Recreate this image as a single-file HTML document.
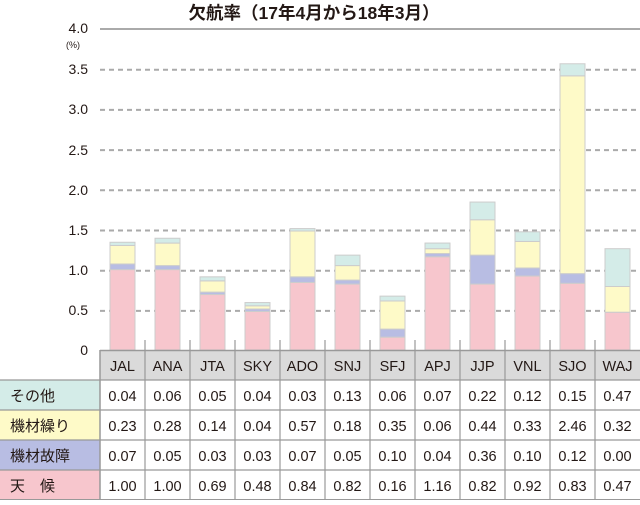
<!DOCTYPE html>
<html><head><meta charset="utf-8"><style>
body{margin:0;background:#fff;}
svg text{font-family:"Liberation Sans","Noto Sans CJK JP",sans-serif;fill:#231815;}
</style></head><body>
<svg width="640" height="500" viewBox="0 0 640 500" xmlns="http://www.w3.org/2000/svg">
<rect width="640" height="500" fill="#fff"/>
<text x="314" y="19" font-size="17.5" font-weight="bold" text-anchor="middle">欠航率（17年4月から18年3月）</text>
<g font-size="14" text-anchor="end">
<text x="88" y="33">4.0</text>
<text x="88" y="74">3.5</text>
<text x="88" y="114">3.0</text>
<text x="88" y="155">2.5</text>
<text x="88" y="195">2.0</text>
<text x="88" y="235">1.5</text>
<text x="88" y="275">1.0</text>
<text x="88" y="315">0.5</text>
<text x="88" y="355">0</text>
</g>
<text x="66" y="48" font-size="9">(%)</text>
<line x1="100" y1="29" x2="640" y2="29" stroke="#aaa" stroke-width="2"/>
<g stroke="#aaa" stroke-width="2" stroke-dasharray="5,4">
<line x1="100" y1="69.7" x2="640" y2="69.7"/>
<line x1="100" y1="109.9" x2="640" y2="109.9"/>
<line x1="100" y1="150.1" x2="640" y2="150.1"/>
<line x1="100" y1="190.3" x2="640" y2="190.3"/>
<line x1="100" y1="230.5" x2="640" y2="230.5"/>
<line x1="100" y1="270.7" x2="640" y2="270.7"/>
<line x1="100" y1="310.9" x2="640" y2="310.9"/>
</g>
<g id="bars" stroke="#ccc" stroke-width="1"></g>
<g id="tbl"></g>
<script>
var names=["JAL","ANA","JTA","SKY","ADO","SNJ","SFJ","APJ","JJP","VNL","SJO","WAJ"];
var oth=["0.04","0.06","0.05","0.04","0.03","0.13","0.06","0.07","0.22","0.12","0.15","0.47"];
var rep=["0.23","0.28","0.14","0.04","0.57","0.18","0.35","0.06","0.44","0.33","2.46","0.32"];
var brk=["0.07","0.05","0.03","0.03","0.07","0.05","0.10","0.04","0.36","0.10","0.12","0.00"];
var wea=["1.00","1.00","0.69","0.48","0.84","0.82","0.16","1.16","0.82","0.92","0.83","0.47"];
var cols=["#f7c6cd","#b8bde3","#fefac8","#d4ece8"];
var NS="http://www.w3.org/2000/svg";
function el(t,a,p,txt){var e=document.createElementNS(NS,t);for(var k in a)e.setAttribute(k,a[k]);if(txt!==undefined)e.textContent=txt;p.appendChild(e);return e;}
var bars=document.getElementById("bars"),tbl=document.getElementById("tbl");
var S=80.4;
for(var i=0;i<12;i++){
 var x=100+45*i+10,y=350;
 var vals=[+wea[i],+brk[i],+rep[i],+oth[i]];
 for(var j=0;j<4;j++){var h=vals[j]*S;if(h<=0)continue;y-=h;el("rect",{x:x,y:y,width:25,height:h,fill:cols[j]},bars);}
}
el("rect",{x:100,y:350,width:540,height:30,fill:"#dadada"},tbl);
var rowc=["#d4ece8","#fefac8","#b8bde3","#f7c6cd"];
var labels=["その他","機材繰り","機材故障","天　候"];
var data=[oth,rep,brk,wea];
for(var r=0;r<4;r++){
 var ry=380+30*r;
 el("rect",{x:0,y:ry,width:100,height:30,fill:rowc[r]},tbl);
 el("text",{x:10,y:ry+21,"font-size":"15"},tbl,labels[r]);
 for(var i=0;i<12;i++) el("text",{x:122.5+45*i,y:ry+21,"font-size":"14.5","text-anchor":"middle"},tbl,data[r][i]);
}
for(var i=0;i<12;i++) el("text",{x:122.5+45*i,y:371,"font-size":"14.5","text-anchor":"middle"},tbl,names[i]);
var g="#999";
el("line",{x1:100,y1:350.5,x2:640,y2:350.5,stroke:g,"stroke-width":1.5},tbl);
for(var r=0;r<4;r++) el("line",{x1:0,y1:380+30*r,x2:640,y2:380+30*r,stroke:g,"stroke-width":1.2},tbl);
el("line",{x1:0,y1:499.5,x2:640,y2:499.5,stroke:g,"stroke-width":1},tbl);
el("line",{x1:100,y1:350,x2:100,y2:500,stroke:g,"stroke-width":1.5},tbl);
for(var i=1;i<12;i++) el("line",{x1:100+45*i,y1:340,x2:100+45*i,y2:500,stroke:g,"stroke-width":1.2},tbl);
</script>
</svg>
</body></html>
